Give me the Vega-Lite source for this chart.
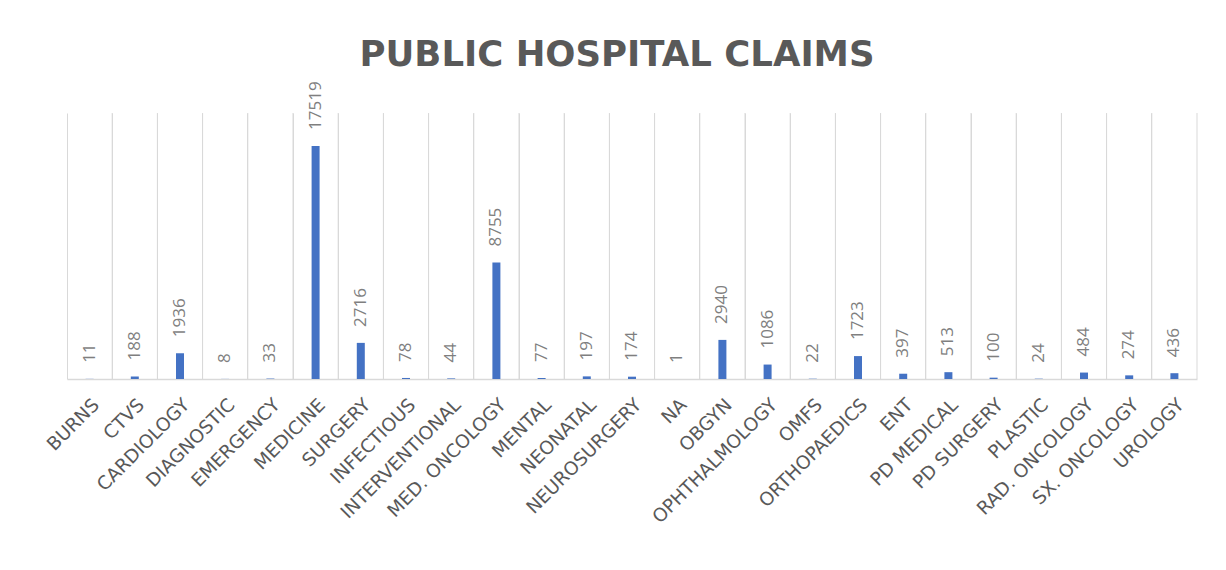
{
  "$schema": "https://vega.github.io/schema/vega-lite/v6.json",
  "width": 1130,
  "height": 266,
  "autosize": {"type": "none"},
  "padding": {"left": 67, "top": 113, "right": 29, "bottom": 191},
  "background": "white",
  "title": {
    "text": "PUBLIC HOSPITAL CLAIMS",
    "font": "DejaVu Sans",
    "fontSize": 35.5,
    "fontWeight": "bold",
    "color": "#595959",
    "anchor": "middle",
    "offset": 8,
    "dx": -15
  },
  "config": {"view": {"stroke": null}},
  "data": {
    "values": [
      {"dept": "BURNS", "claims": 11},
      {"dept": "CTVS", "claims": 188},
      {"dept": "CARDIOLOGY", "claims": 1936},
      {"dept": "DIAGNOSTIC", "claims": 8},
      {"dept": "EMERGENCY", "claims": 33},
      {"dept": "MEDICINE", "claims": 17519},
      {"dept": "SURGERY", "claims": 2716},
      {"dept": "INFECTIOUS", "claims": 78},
      {"dept": "INTERVENTIONAL", "claims": 44},
      {"dept": "MED. ONCOLOGY", "claims": 8755},
      {"dept": "MENTAL", "claims": 77},
      {"dept": "NEONATAL", "claims": 197},
      {"dept": "NEUROSURGERY", "claims": 174},
      {"dept": "NA", "claims": 1},
      {"dept": "OBGYN", "claims": 2940},
      {"dept": "OPHTHALMOLOGY", "claims": 1086},
      {"dept": "OMFS", "claims": 22},
      {"dept": "ORTHOPAEDICS", "claims": 1723},
      {"dept": "ENT", "claims": 397},
      {"dept": "PD MEDICAL", "claims": 513},
      {"dept": "PD SURGERY", "claims": 100},
      {"dept": "PLASTIC", "claims": 24},
      {"dept": "RAD. ONCOLOGY", "claims": 484},
      {"dept": "SX. ONCOLOGY", "claims": 274},
      {"dept": "UROLOGY", "claims": 436}
    ]
  },
  "encoding": {
    "x": {
      "field": "dept",
      "type": "nominal",
      "sort": null,
      "scale": {"paddingInner": 0, "paddingOuter": 0}
    }
  },
  "layer": [
    {
      "mark": {"type": "rule", "color": "#d9d9d9", "strokeWidth": 1},
      "encoding": {
        "x": {"field": "dept", "type": "nominal", "sort": null, "bandPosition": 1}
      }
    },
    {
      "mark": {"type": "bar", "color": "#4472C4", "width": 8},
      "encoding": {
        "x": {
          "field": "dept",
          "type": "nominal",
          "sort": null,
          "axis": {
            "title": null,
            "labelAngle": -45,
            "labelAlign": "right",
            "labelBaseline": "top",
            "labelPadding": 16,
            "labelOffset": 0,
            "labelFont": "DejaVu Sans",
            "labelFontSize": 18.5,
            "labelColor": "#595959",
            "labelLimit": 400,
            "ticks": false,
            "domainColor": "#d9d9d9",
            "domainWidth": 1.5,
            "grid": true,
            "gridColor": "#d9d9d9",
            "bandPosition": 0
          }
        },
        "y": {
          "field": "claims",
          "type": "quantitative",
          "scale": {"domain": [0, 20000]},
          "axis": null
        }
      }
    },
    {
      "mark": {
        "type": "text",
        "angle": 270,
        "align": "left",
        "baseline": "middle",
        "dx": 16,
        "font": "Open Sans",
        "fontSize": 17,
        "color": "#7f7f7f"
      },
      "encoding": {
        "y": {"field": "claims", "type": "quantitative"},
        "text": {"field": "claims", "type": "quantitative"}
      }
    }
  ]
}
